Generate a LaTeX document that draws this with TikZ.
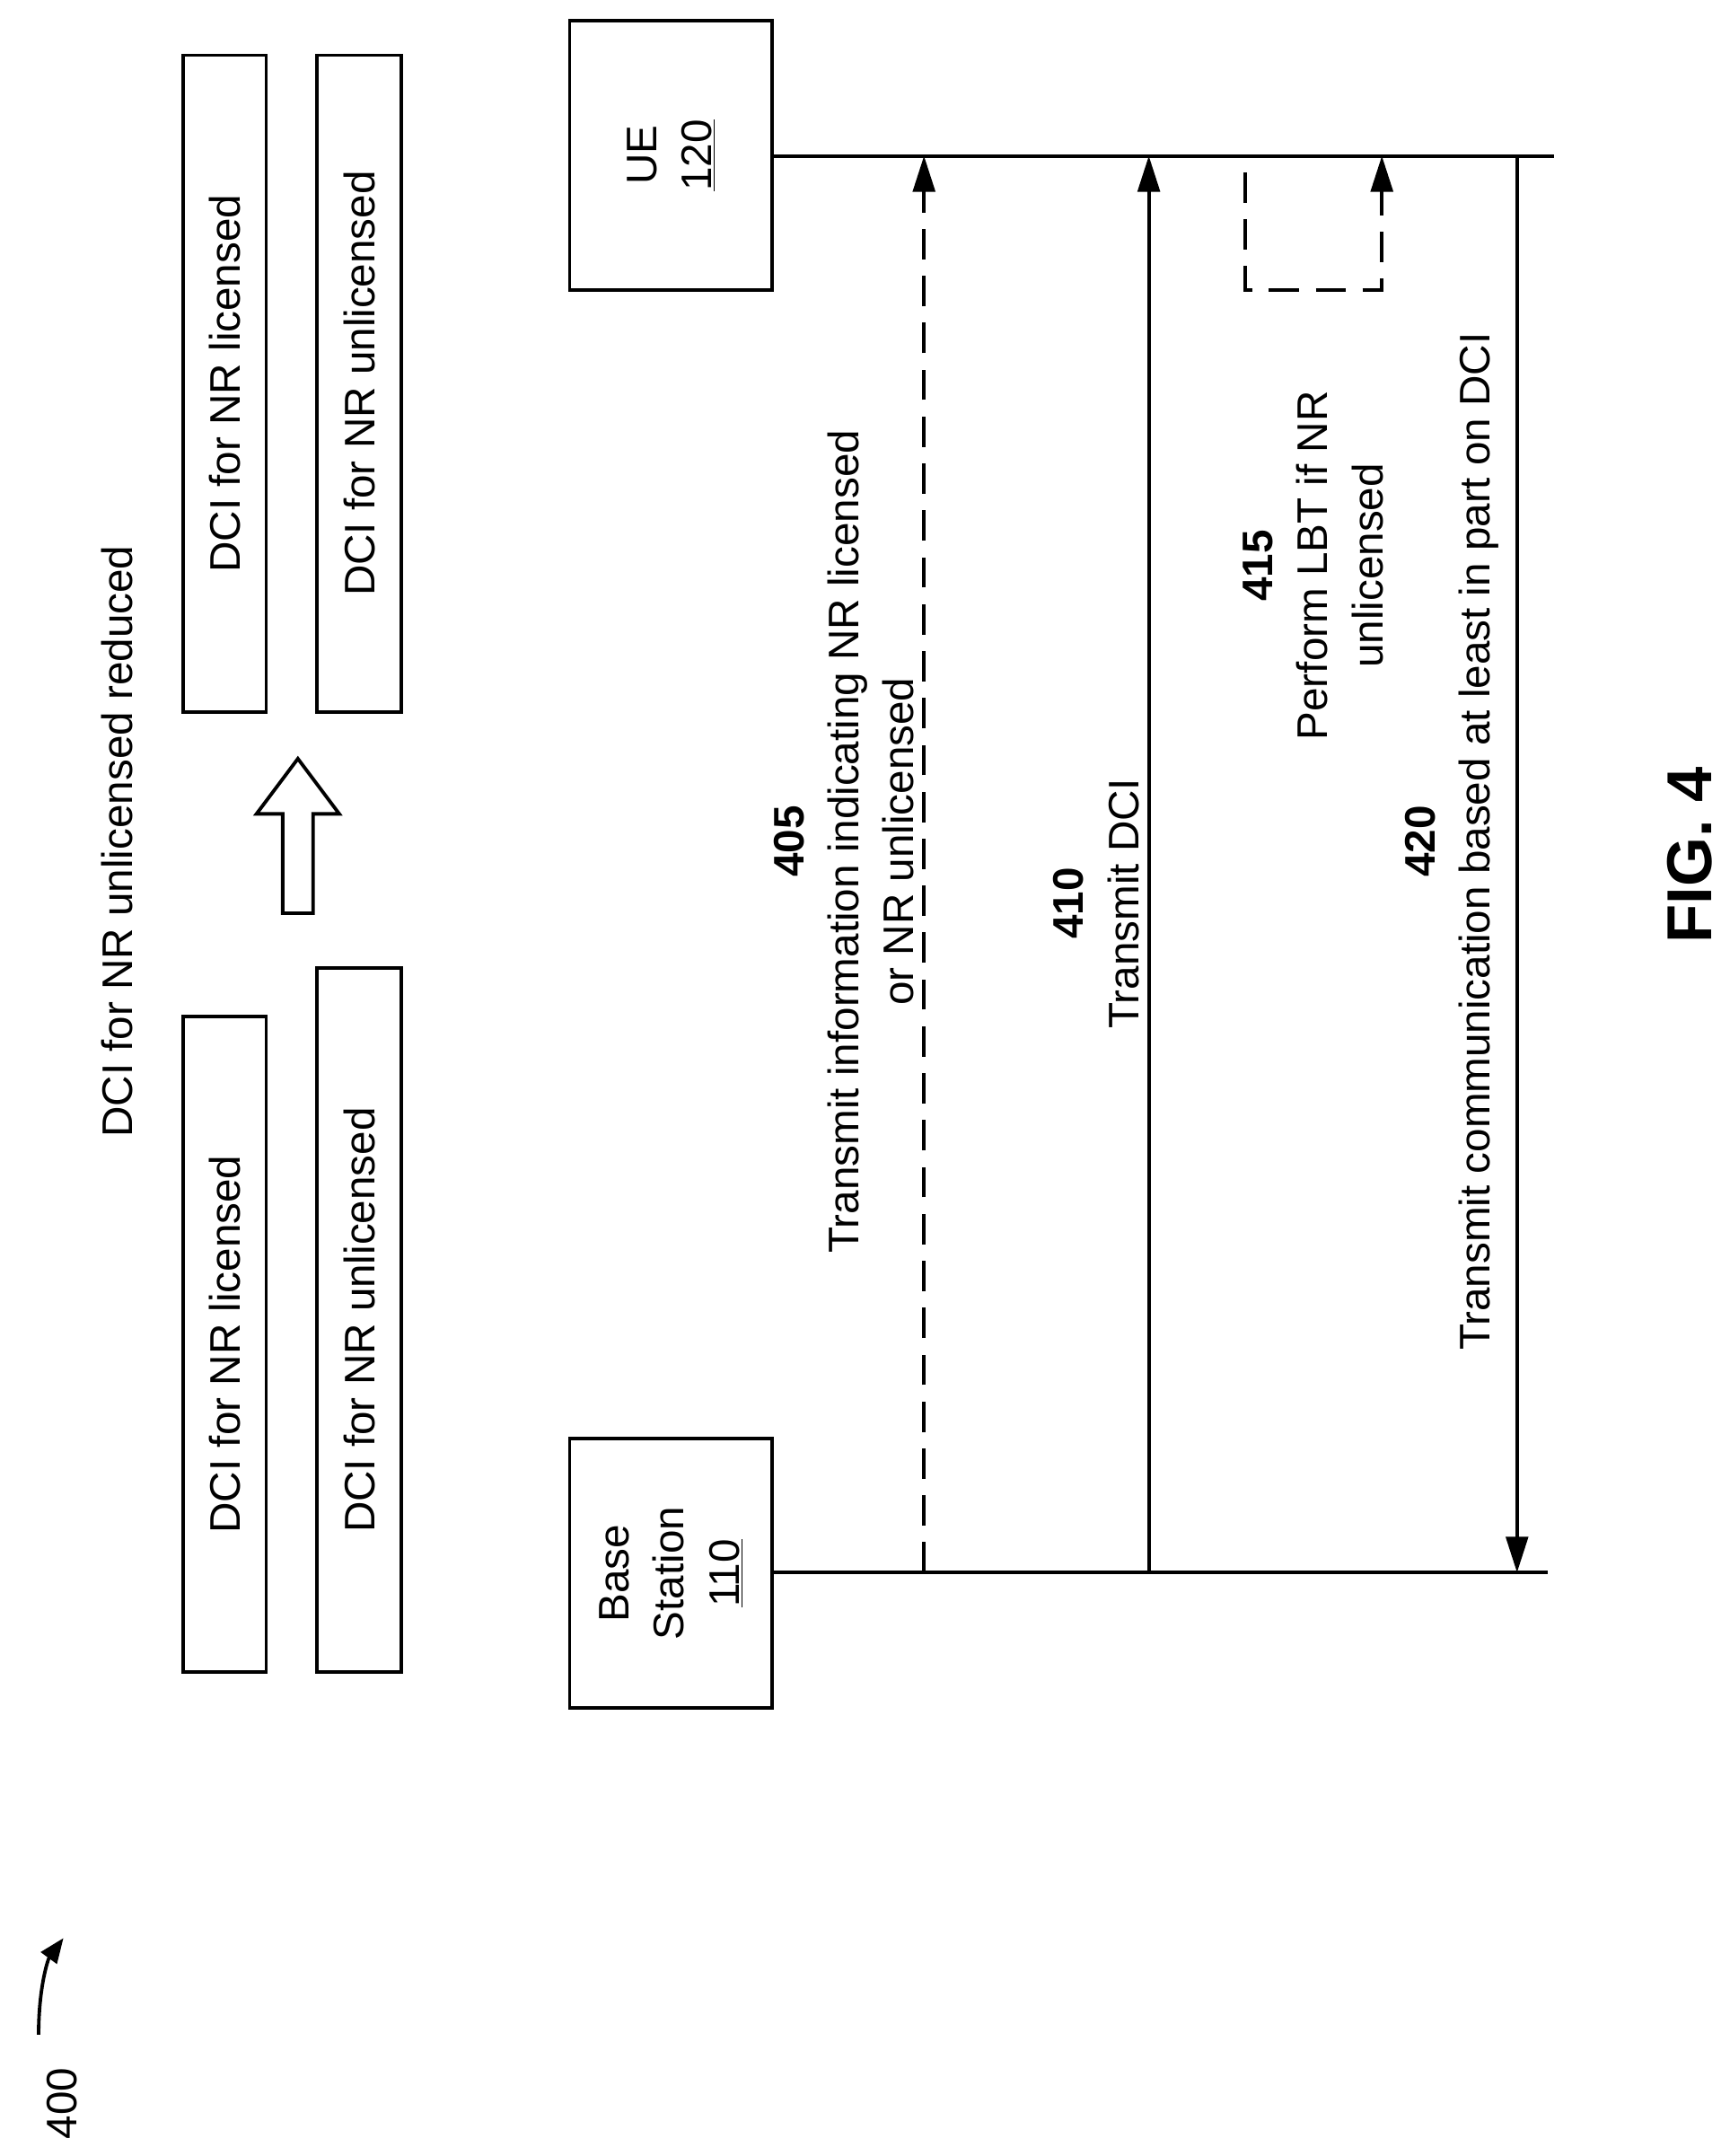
\documentclass[tikz,border=0pt]{standalone}
\usepackage{fontspec}
\setmainfont{Liberation Sans}
\usetikzlibrary{arrows.meta}
\begin{document}
\begin{tikzpicture}[x=1pt,y=-1pt,
  every node/.style={font=\fontsize{31}{40}\selectfont},
  box/.style={draw,line width=2.5pt,inner sep=0pt},
  lbl/.style={rotate=90,align=center},
  ln/.style={line width=2.5pt},
  arr/.style={ln,-{Triangle[length=26pt,width=16pt]}},
  dsh/.style={dash pattern=on 22pt off 12pt}]
\useasboundingbox (0,0) rectangle (1254,1563);
% 400
\node[lbl] (n400) at (45,1525) {400};
\draw[ln,-{Triangle[length=18pt,width=14pt]}] (28,1475) .. controls (28,1440) and (35,1420) .. (46,1405);
\node[lbl] (title) at (85,610) {DCI for NR unlicensed reduced};
% DCI boxes
\node[box,minimum width=60pt,minimum height=475pt] (b1) at (163,974.5) {};
\node[lbl] at (b1) {DCI for NR licensed};
\node[box,minimum width=61pt,minimum height=510pt] (b2) at (260.5,957) {};
\node[lbl] at (b2) {DCI for NR unlicensed};
\node[box,minimum width=60pt,minimum height=476pt] (b3) at (163,278) {};
\node[lbl] at (b3) {DCI for NR licensed};
\node[box,minimum width=61pt,minimum height=476pt] (b4) at (260.5,278) {};
\node[lbl] at (b4) {DCI for NR unlicensed};
% hollow arrow
\draw[ln,line join=miter] (205,662) -- (205,590) -- (186,590) -- (216,550) -- (246,590) -- (227,590) -- (227,662) -- cycle;
% UE and BS
\node[box,minimum width=147pt,minimum height=195pt] (ue) at (486.5,112.5) {};
\node[lbl] at (ue) {UE\\\underline{120}};
\node[box,minimum width=147pt,minimum height=195pt] (bs) at (486.5,1140.5) {};
\node[lbl] at (bs) {Base\\Station\\\underline{110}};
\coordinate (ueE) at (1127,113);
\coordinate (bsE) at (1122,1140);
\draw[ln] (ue.east |- 0,113) -- (ueE);
\draw[ln] (bs.east |- 0,1140) -- (bsE);
% arrows
\coordinate (a1s) at (670,1140); \coordinate (a1e) at (670,113);
\draw[arr,dsh] (a1s) -- (a1e);
\coordinate (a2s) at (833,1140); \coordinate (a2e) at (833,113);
\draw[arr] (a2s) -- (a2e);
\coordinate (a3s) at (903,125); \coordinate (a3e) at (1002,113);
\draw[arr,dsh] (a3s) -- (903,210) -- (1002,210) -- (a3e);
\coordinate (a4s) at (1100,113); \coordinate (a4e) at (1100,1140);
\draw[arr] (a4s) -- (a4e);
% labels
\node[lbl] (l405) at (612,610) {\textbf{405}\\Transmit information indicating NR licensed\\or NR unlicensed};
\node[lbl] (l410) at (795,655) {\textbf{410}\\Transmit DCI};
\node[lbl] (l415) at (952,410) {\textbf{415}\\Perform LBT if NR\\unlicensed};
\node[lbl] (l420) at (1053,610) {\textbf{420}\\Transmit communication based at least in part on DCI};
\node[lbl,font=\fontsize{46}{50}\selectfont\bfseries] (fig) at (1225,620) {FIG. 4};
\end{tikzpicture}
\end{document}
